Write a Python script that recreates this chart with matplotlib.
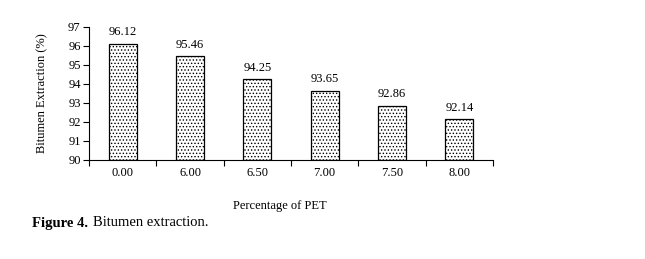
import matplotlib.pyplot as plt
import numpy as np

# data
pet = ['0.00', '6.00', '6.50', '7.00', '7.50', '8.00']
extraction = [96.12, 95.46, 94.25, 93.65, 92.86, 92.14]
yticks = [90, 91, 92, 93, 94, 95, 96, 97]

plt.rcParams['font.family'] = ['Liberation Serif', 'DejaVu Serif']
plt.rcParams['hatch.linewidth'] = 0.6

fig = plt.figure(figsize=(6.45, 2.59), dpi=100)
ax = fig.add_axes([89/645, 1-160/259, 404/645, 133/259])

x = np.arange(len(pet)) + 0.5
bars = ax.bar(x, np.array(extraction) - 90, bottom=90, width=0.42,
              color='white', edgecolor='black', linewidth=0.9, hatch='.....')

for xi, v in zip(x, extraction):
    ax.text(xi, v + 0.28, '%.2f' % v, ha='center', va='bottom', fontsize=9)

ax.set_xlim(0, len(pet))
ax.set_ylim(90, 97)
ax.set_yticks(yticks)
ax.set_yticklabels([str(t) for t in yticks], fontsize=9)
ax.set_xticks(np.arange(len(pet) + 1))
ax.set_xticklabels([])
ax.set_xticks(x, minor=True)
ax.set_xticklabels(pet, minor=True, fontsize=9)
ax.tick_params(axis='x', which='minor', length=0, pad=5)
ax.tick_params(axis='x', which='major', length=4, width=0.8, direction='out')
ax.tick_params(axis='y', length=4, width=0.8, direction='out', pad=2)

ax.spines['top'].set_visible(False)
ax.spines['right'].set_visible(False)
ax.spines['left'].set_linewidth(0.8)
ax.spines['bottom'].set_linewidth(0.8)

ax.set_ylabel('Bitumen Extraction (%)', fontsize=9, labelpad=14)
fig.text(280/645, 1-206/259, 'Percentage of PET', ha='center', va='center', fontsize=9)

fig.text(32/645, 1-223/259, 'Figure 4.', ha='left', va='center', fontsize=10.5, fontweight='bold')
fig.text(93/645, 1-223/259, 'Bitumen extraction.', ha='left', va='center', fontsize=10.5)

fig.savefig('out.png', dpi=100)
